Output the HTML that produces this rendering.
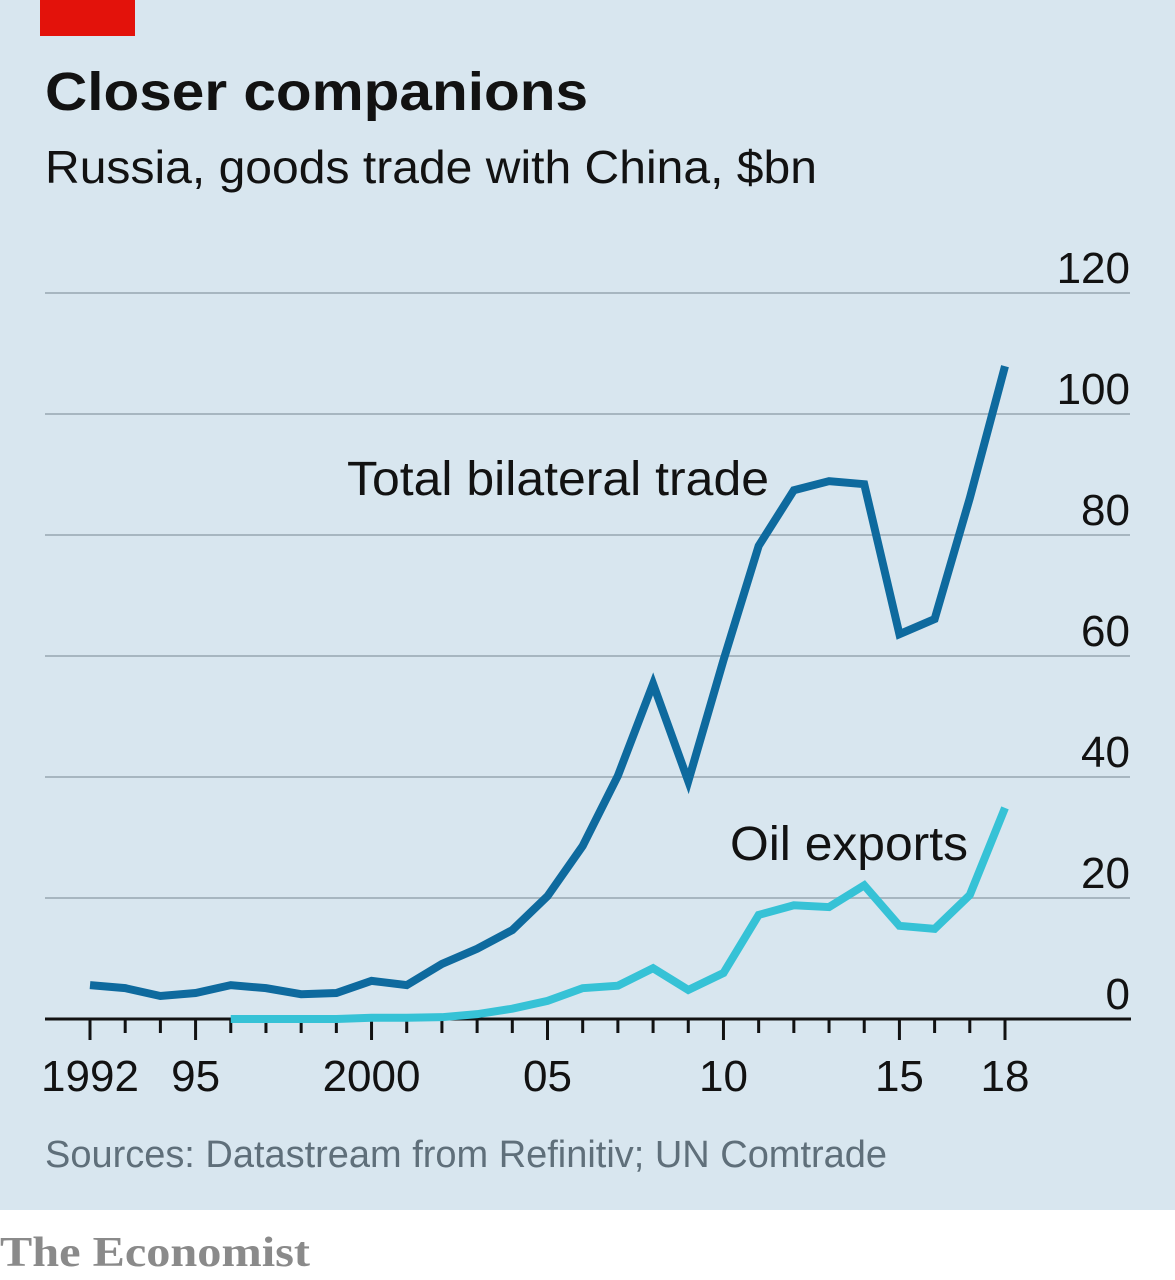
<!DOCTYPE html>
<html><head><meta charset="utf-8"><style>
html,body{margin:0;padding:0;width:1175px;height:1280px;background:#fff;overflow:hidden}
svg{display:block}
text{font-family:"Liberation Sans Narrow","Liberation Sans",sans-serif}
</style></head><body>
<svg id="chart" width="1175" height="1280">
<rect x="0" y="0" width="1175" height="1210" fill="#d8e6ef"/>
<rect x="40" y="0" width="95" height="36" fill="#e3120b"/>
<text x="45" y="110" font-size="54" font-weight="bold" fill="#121212" textLength="543" lengthAdjust="spacingAndGlyphs">Closer companions</text>
<text x="45" y="183" font-size="46" fill="#121212" textLength="772" lengthAdjust="spacingAndGlyphs">Russia, goods trade with China, $bn</text>
<g id="grid"></g>
<g id="xaxis"></g>
<g id="series"></g>
<text x="347" y="495" font-size="48" fill="#121212" textLength="422" lengthAdjust="spacingAndGlyphs">Total bilateral trade</text>
<text x="730" y="860" font-size="48" fill="#121212" textLength="238" lengthAdjust="spacingAndGlyphs">Oil exports</text>
<text x="45" y="1167" font-size="38" fill="#5f6f7a" textLength="842" lengthAdjust="spacingAndGlyphs">Sources: Datastream from Refinitiv; UN Comtrade</text>
<text x="0" y="1266" font-size="42" font-weight="bold" fill="#8a8a8a" font-family="Liberation Serif, serif" style="font-family:'Liberation Serif',serif" textLength="310" lengthAdjust="spacingAndGlyphs">The Economist</text>
</svg>
<script>
const years = [1992,1993,1994,1995,1996,1997,1998,1999,2000,2001,2002,2003,2004,2005,2006,2007,2008,2009,2010,2011,2012,2013,2014,2015,2016,2017,2018];
const totalTrade = [5.6,5.1,3.8,4.3,5.6,5.1,4.1,4.3,6.3,5.6,9.1,11.6,14.7,20.3,28.6,40.2,55.4,39.3,59.3,78.2,87.4,88.9,88.4,63.6,66.1,86.1,107.9];
const oilYears = [1996,1997,1998,1999,2000,2001,2002,2003,2004,2005,2006,2007,2008,2009,2010,2011,2012,2013,2014,2015,2016,2017,2018];
const oilExports = [0,0,0,0,0.2,0.2,0.3,0.8,1.7,3.0,5.1,5.5,8.4,4.8,7.6,17.2,18.8,18.5,22.1,15.4,14.9,20.5,34.9];
const yTicks = [0,20,40,60,80,100,120];
const xLabels = ["1992","95","2000","05","10","15","18"];
const xLabelYears = [1992,1995,2000,2005,2010,2015,2018];

const NS="http://www.w3.org/2000/svg";
function xs(y){return 90+(y-1992)*(1005-90)/26;}
function ys(v){return 1019-v*(1019-293)/120;}
function mk(tag,attrs,parent){const e=document.createElementNS(NS,tag);for(const k in attrs)e.setAttribute(k,attrs[k]);parent.appendChild(e);return e;}

const grid=document.getElementById('grid');
yTicks.forEach(v=>{
  if(v>0){
    const l=mk('line',{x1:45,x2:1130,y1:ys(v),y2:ys(v),stroke:'#a7b6c0','stroke-width':2},grid);
    
    
  }
  const t=mk('text',{x:1130,y:ys(v)-10,'text-anchor':'end','font-size':44,fill:'#121212'},grid);
  t.textContent=String(v);
  
  
});

const xa=document.getElementById('xaxis');
years.forEach(y=>{
  const major=xLabelYears.indexOf(y)>=0;
  const tk=mk('line',{x1:xs(y),x2:xs(y),y1:1019,y2:major?1040:1033,stroke:'#121212','stroke-width':3},xa);
  
  
});
const ax=mk('line',{x1:45,x2:1131,y1:1019,y2:1019,stroke:'#121212','stroke-width':3},xa);


xLabelYears.forEach((y,i)=>{
  const t=mk('text',{x:xs(y),y:1091,'text-anchor':'middle','font-size':44,fill:'#121212'},xa);
  t.textContent=xLabels[i];
  
  
});

const sg=document.getElementById('series');
const p1=mk('polyline',{points:years.map((y,i)=>xs(y)+','+ys(totalTrade[i])).join(' '),fill:'none',stroke:'#0e6a9e','stroke-width':8,'stroke-linejoin':'miter'},sg);


const p2=mk('polyline',{points:oilYears.map((y,i)=>xs(y)+','+ys(oilExports[i])).join(' '),fill:'none',stroke:'#36c2d6','stroke-width':8,'stroke-linejoin':'miter'},sg);


</script>
</body></html>
